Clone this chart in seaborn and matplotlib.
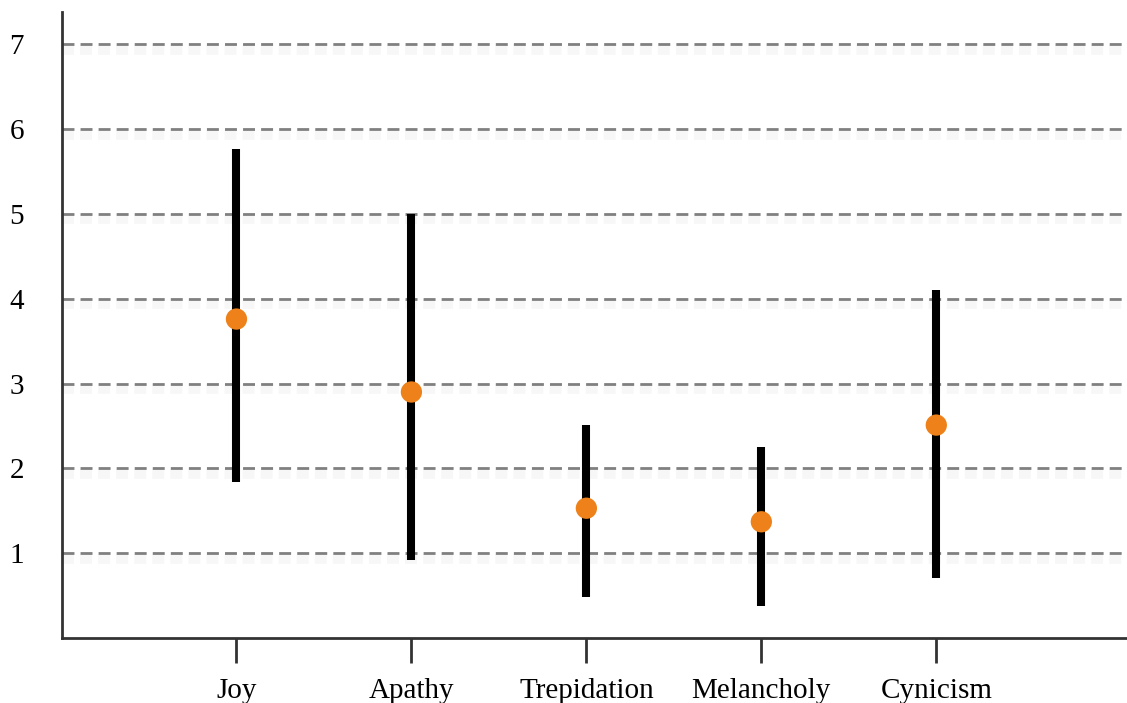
import numpy as np
import matplotlib
matplotlib.use("Agg")
import matplotlib.pyplot as plt
import matplotlib.patheffects as pe
import seaborn as sns

# data
emotions = ["Joy", "Apathy", "Trepidation", "Melancholy", "Cynicism"]
means = [3.76, 2.90, 1.53, 1.37, 2.51]
lows = [1.84, 0.92, 0.48, 0.38, 0.71]
highs = [5.77, 5.00, 2.51, 2.25, 4.10]
yticks = [1, 2, 3, 4, 5, 6, 7]

sns.set_style("white")
plt.rcParams["font.family"] = ["Liberation Serif", "DejaVu Serif"]

fig = plt.figure(figsize=(11.27, 7.03), dpi=100)
ax = fig.add_axes([61.5 / 1127, 65 / 703, 1065.5 / 1127, 626 / 703])

pos = np.arange(1, len(emotions) + 1)
shadow = [pe.SimpleLineShadow(offset=(0, -4), shadow_color="0.9", alpha=0.3, linewidth=7), pe.Normal()]

for y in yticks:
    ax.axhline(y, color="#808080", lw=2, ls=(0, (4.3, 2.2)), zorder=1, path_effects=shadow)

ax.vlines(pos, lows, highs, color="black", lw=5.8, zorder=2)
sns.scatterplot(x=pos, y=means, ax=ax, s=235, color="#ee8119", edgecolor="none", zorder=3)

ax.set_xlim(0, 6.09)
ax.set_ylim(0, 7.38)
ax.set_xticks(pos)
ax.set_xticklabels(emotions)
ax.set_yticks(yticks)
ax.set_yticklabels([str(v) for v in yticks])

for s in ["top", "right"]:
    ax.spines[s].set_visible(False)
for s in ["left", "bottom"]:
    ax.spines[s].set_color("#333333")
    ax.spines[s].set_linewidth(2)

ax.tick_params(axis="x", length=18, width=2, color="#333333", pad=11, labelsize=21,
               labelcolor="black", direction="out", bottom=True)
ax.tick_params(axis="y", length=0, pad=27, labelsize=21, labelcolor="black")

fig.savefig("out.png", dpi=100)
